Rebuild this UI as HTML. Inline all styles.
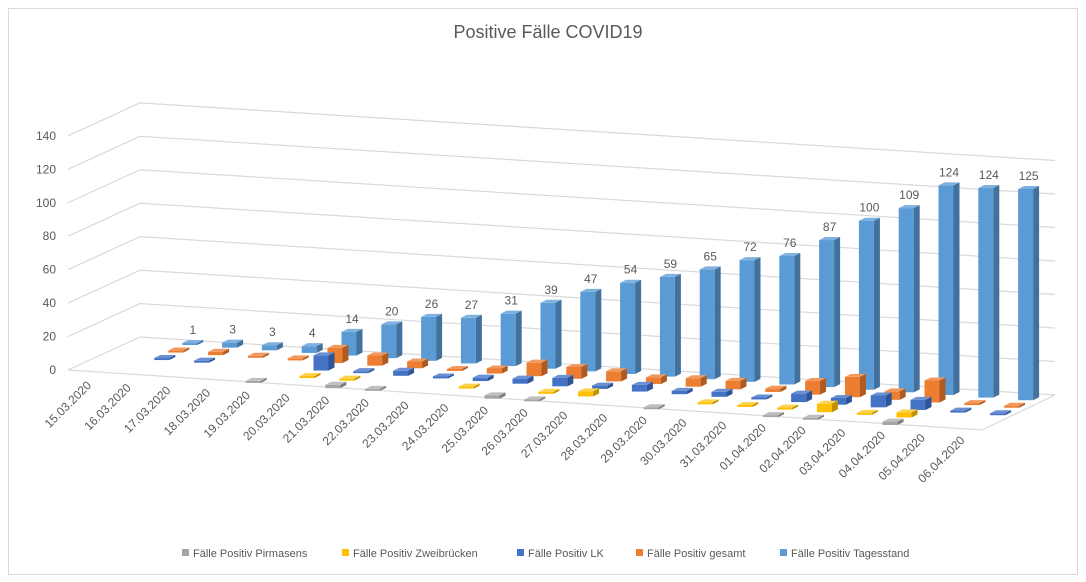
<!DOCTYPE html>
<html><head><meta charset="utf-8">
<style>
html,body{margin:0;padding:0;background:#fff;}
svg{display:block;font-family:"Liberation Sans",sans-serif;}
</style></head>
<body>
<svg id="c" width="1086" height="582" xmlns="http://www.w3.org/2000/svg">
<rect x="8.5" y="8.5" width="1069" height="566" fill="#fff" stroke="#d9d9d9"/>
<text x="548" y="38" text-anchor="middle" font-size="18" fill="#595959">Positive Fälle COVID19</text>
<g id="grid"></g>
<g id="bars"></g>
<g id="labels" font-size="12" fill="#595959"></g>
<g font-size="11" fill="#595959">
<rect x="182" y="549" width="7" height="7" fill="#a5a5a5"/><text x="193" y="557">Fälle Positiv Pirmasens</text>
<rect x="342" y="549" width="7" height="7" fill="#ffc000"/><text x="353" y="557">Fälle Positiv Zweibrücken</text>
<rect x="517" y="549" width="7" height="7" fill="#4472c4"/><text x="528" y="557">Fälle Positiv LK</text>
<rect x="636" y="549" width="7" height="7" fill="#ed7d31"/><text x="647" y="557">Fälle Positiv gesamt</text>
<rect x="780" y="549" width="7" height="7" fill="#5b9bd5"/><text x="791" y="557">Fälle Positiv Tagesstand</text>
</g>
</svg>
<script>
(function(){
var NS="http://www.w3.org/2000/svg";
function el(p,t,a,txt){var e=document.createElementNS(NS,t);for(var k in a)e.setAttribute(k,a[k]);if(txt!=null)e.textContent=txt;p.appendChild(e);return e;}
var grid=document.getElementById('grid'),bars=document.getElementById('bars'),labs=document.getElementById('labels');
for(var k=0;k<=7;k++){
  var yb=337-33.45*k, yr=395-33.5*k, yf=370-33.45*k;
  el(grid,'line',{x1:140,y1:yb,x2:1055,y2:yr,stroke:'#d9d9d9','stroke-width':1.2});
  el(grid,'line',{x1:68,y1:yf,x2:140,y2:yb,stroke:'#d9d9d9','stroke-width':1.2});
  el(labs,'text',{x:56,y:yf+4,'text-anchor':'end'},String(20*k));
}
el(grid,'line',{x1:68,y1:370,x2:982,y2:430,stroke:'#d9d9d9','stroke-width':1.2});
el(grid,'line',{x1:982,y1:430,x2:1055,y2:395,stroke:'#d9d9d9','stroke-width':1.2});
var N=null;
var series=[
 {c:'#5b9bd5',s:'#41719c',t:'#7fb1e0',lab:true,d:[N,1,3,3,4,14,20,26,27,31,39,47,54,59,65,72,76,87,100,109,124,124,125]},
 {c:'#ed7d31',s:'#ae5a21',t:'#f29a5e',d:[N,0,2,0,0,9,6,4,0,3,8,7,6,4,5,5,2,8,12,5,13,0,0]},
 {c:'#4472c4',s:'#2f5597',t:'#6a8fd3',d:[N,0,1,N,N,9,0,3,0,2,3,5,2,4,2,3,1,5,4,7,6,0,0]},
 {c:'#ffc000',s:'#bf9000',t:'#ffd24d',d:[N,N,N,N,N,0,0,N,N,0,N,0,3,N,N,0,0,1,5,0,3,N,N]},
 {c:'#a5a5a5',s:'#7c7c7c',t:'#bfbfbf',d:[N,N,N,N,0,N,2,1,N,N,2,0,N,N,1,N,N,0,0,N,2,N,N]}
];
var W=15,DX=6,DY=-3,S=1.69;
for(var r=0;r<series.length;r++){
  var sr=series[r];
  for(var i=0;i<23;i++){
    var v=sr.d[i]; if(v==null)continue;
    var bx=150+39.8*i;
    var x0=bx-14*r-W/2;
    var base=345+0.066*(bx-189)+7.5*r;
    var h=Math.max(2,v*S);
    var ty=base-h;
    el(bars,'rect',{x:x0,y:ty,width:W,height:h,fill:sr.c});
    el(bars,'polygon',{points:[x0+W,ty,x0+W+DX,ty+DY,x0+W+DX,base+DY,x0+W,base].join(' '),fill:sr.s});
    el(bars,'polygon',{points:[x0,ty,x0+DX,ty+DY,x0+W+DX,ty+DY,x0+W,ty].join(' '),fill:sr.t});
    if(sr.lab)el(labs,'text',{x:x0+W/2+3,y:ty-9,'text-anchor':'middle'},String(v));
  }
}
var dates=['15.03.2020','16.03.2020','17.03.2020','18.03.2020','19.03.2020','20.03.2020','21.03.2020','22.03.2020','23.03.2020','24.03.2020','25.03.2020','26.03.2020','27.03.2020','28.03.2020','29.03.2020','30.03.2020','31.03.2020','01.04.2020','02.04.2020','03.04.2020','04.04.2020','05.04.2020','06.04.2020'];
for(var i=0;i<23;i++){
  var lx=92+39.7*i,ly=386+2.5*i;
  el(labs,'text',{x:lx,y:ly,'text-anchor':'end',transform:'rotate(-45 '+lx+' '+ly+')'},dates[i]);
}
})();
</script>
</body></html>
